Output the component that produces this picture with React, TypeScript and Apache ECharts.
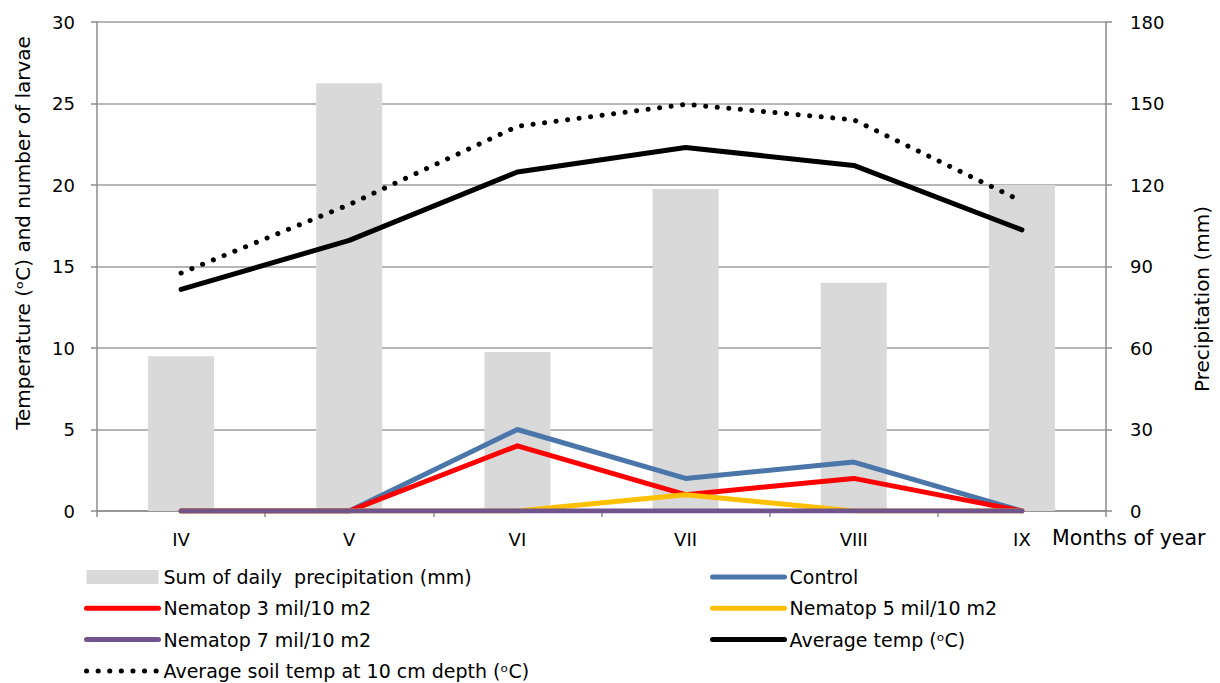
import React, { useEffect, useRef } from "react";
import * as echarts from "echarts";

const months = ["IV", "V", "VI", "VII", "VIII", "IX"];
const precipitation = [57, 157.5, 58.5, 118.5, 84, 120];
const control = [0, 0, 5, 2, 3, 0];
const nematop3 = [0, 0, 4, 1, 2, 0];
const nematop5 = [0, 0, 0, 1, 0, 0];
const nematop7 = [0, 0, 0, 0, 0, 0];
const avgTemp = [13.6, 16.6, 20.8, 22.3, 21.2, 17.25];
const soilTemp = [14.6, 18.8, 23.6, 24.95, 24.0, 19.0];

const leftTicks = { min: 0, max: 30, interval: 5 };
const rightTicks = { min: 0, max: 180, interval: 30 };

const FONT = "DejaVu Sans";

export default function App() {
  const ref = useRef<HTMLDivElement>(null);
  useEffect(() => {
    if (!ref.current) return;
    const chart = echarts.init(ref.current, null, { renderer: "svg" });
    const lineBase = (name: string, data: number[], color: string, extra: any = {}) => ({
      name,
      type: "line",
      data,
      yAxisIndex: 0,
      symbol: "none",
      showSymbol: false,
      z: 3,
      lineStyle: { color, width: 5, cap: "round", join: "round", ...extra },
      itemStyle: { color },
    });
    const lineItem = (name: string) => ({ name, itemStyle: { opacity: 0 } });
    const legendCommon = {
      orient: "vertical",
      itemWidth: 72,
      itemHeight: 14,
      itemGap: 11.3,
      padding: 0,
      textStyle: { fontFamily: FONT, fontSize: 19, color: "#000", lineHeight: 20 },
      lineStyle: { width: 5 },
      selectedMode: false,
    };
    chart.setOption({
      animation: false,
      backgroundColor: "#fff",
      textStyle: { fontFamily: FONT },
      grid: { left: 97, right: 114, top: 22, bottom: 172, containLabel: false, outerBoundsMode: "none" },
      legend: [
        {
          ...legendCommon,
          left: 84,
          top: 567,
          data: [
            { name: "Sum of daily  precipitation (mm)", icon: "rect" },
            lineItem("Nematop 3 mil/10 m2"),
            lineItem("Nematop 7 mil/10 m2"),
            lineItem("Average soil temp at 10 cm depth (\u1d52C)"),
          ],
        },
        {
          ...legendCommon,
          left: 710,
          top: 567,
          data: [
            lineItem("Control"),
            lineItem("Nematop 5 mil/10 m2"),
            lineItem("Average temp (\u1d52C)"),
          ],
        },
      ],
      xAxis: {
        type: "category",
        data: months,
        boundaryGap: true,
        axisLine: { lineStyle: { color: "#8c8c8c", width: 1.5 } },
        axisTick: { show: true, length: 6, lineStyle: { color: "#8c8c8c", width: 1.5 } },
        axisLabel: { color: "#000", fontSize: 18, fontFamily: FONT, margin: 19 },
        splitLine: { show: false },
      },
      yAxis: [
        {
          type: "value",
          ...leftTicks,
          axisLine: { show: true, lineStyle: { color: "#8c8c8c", width: 1.5 } },
          axisTick: { show: true, length: 6, lineStyle: { color: "#8c8c8c", width: 1.5 } },
          axisLabel: { color: "#000", fontSize: 18, fontFamily: FONT, margin: 22 },
          splitLine: { show: true, lineStyle: { color: "#9e9e9e", width: 1.5 } },
        },
        {
          type: "value",
          ...rightTicks,
          position: "right",
          axisLine: { show: true, lineStyle: { color: "#8c8c8c", width: 1.5 } },
          axisTick: { show: true, length: 6, lineStyle: { color: "#8c8c8c", width: 1.5 } },
          axisLabel: { color: "#000", fontSize: 18, fontFamily: FONT, margin: 24 },
          splitLine: { show: false },
        },
      ],
      graphic: [
        {
          type: "text",
          x: 23,
          y: 233,
          rotation: Math.PI / 2,
          style: {
            text: "Temperature (\u1d52C) and number of larvae",
            fontFamily: FONT,
            fontSize: 20,
            fill: "#000",
            align: "center",
            verticalAlign: "middle",
          },
        },
        {
          type: "text",
          x: 1202,
          y: 299,
          rotation: Math.PI / 2,
          style: {
            text: "Precipitation (mm)",
            fontFamily: FONT,
            fontSize: 20,
            fill: "#000",
            align: "center",
            verticalAlign: "middle",
          },
        },
        {
          type: "text",
          x: 1052,
          y: 527,
          style: {
            text: "Months of year",
            fontFamily: FONT,
            fontSize: 20.5,
            fill: "#000",
            align: "left",
            verticalAlign: "top",
          },
        },
      ],
      series: [
        {
          name: "Sum of daily  precipitation (mm)",
          type: "bar",
          data: precipitation,
          yAxisIndex: 1,
          barWidth: 66,
          itemStyle: { color: "#d9d9d9" },
          z: 1,
        },
        lineBase("Control", control, "#4a76a9"),
        lineBase("Nematop 3 mil/10 m2", nematop3, "#ff0000"),
        lineBase("Nematop 5 mil/10 m2", nematop5, "#ffc000"),
        lineBase("Nematop 7 mil/10 m2", nematop7, "#6f548d"),
        lineBase("Average temp (\u1d52C)", avgTemp, "#000000"),
        lineBase("Average soil temp at 10 cm depth (\u1d52C)", soilTemp, "#000000", {
          type: [0.1, 11.5],
          cap: "round",
        }),
      ],
    });
    return () => chart.dispose();
  }, []);
  return (
    <div
      ref={ref}
      style={{ position: "fixed", left: 0, top: 0, width: 1220, height: 683, background: "#fff" }}
    />
  );
}
